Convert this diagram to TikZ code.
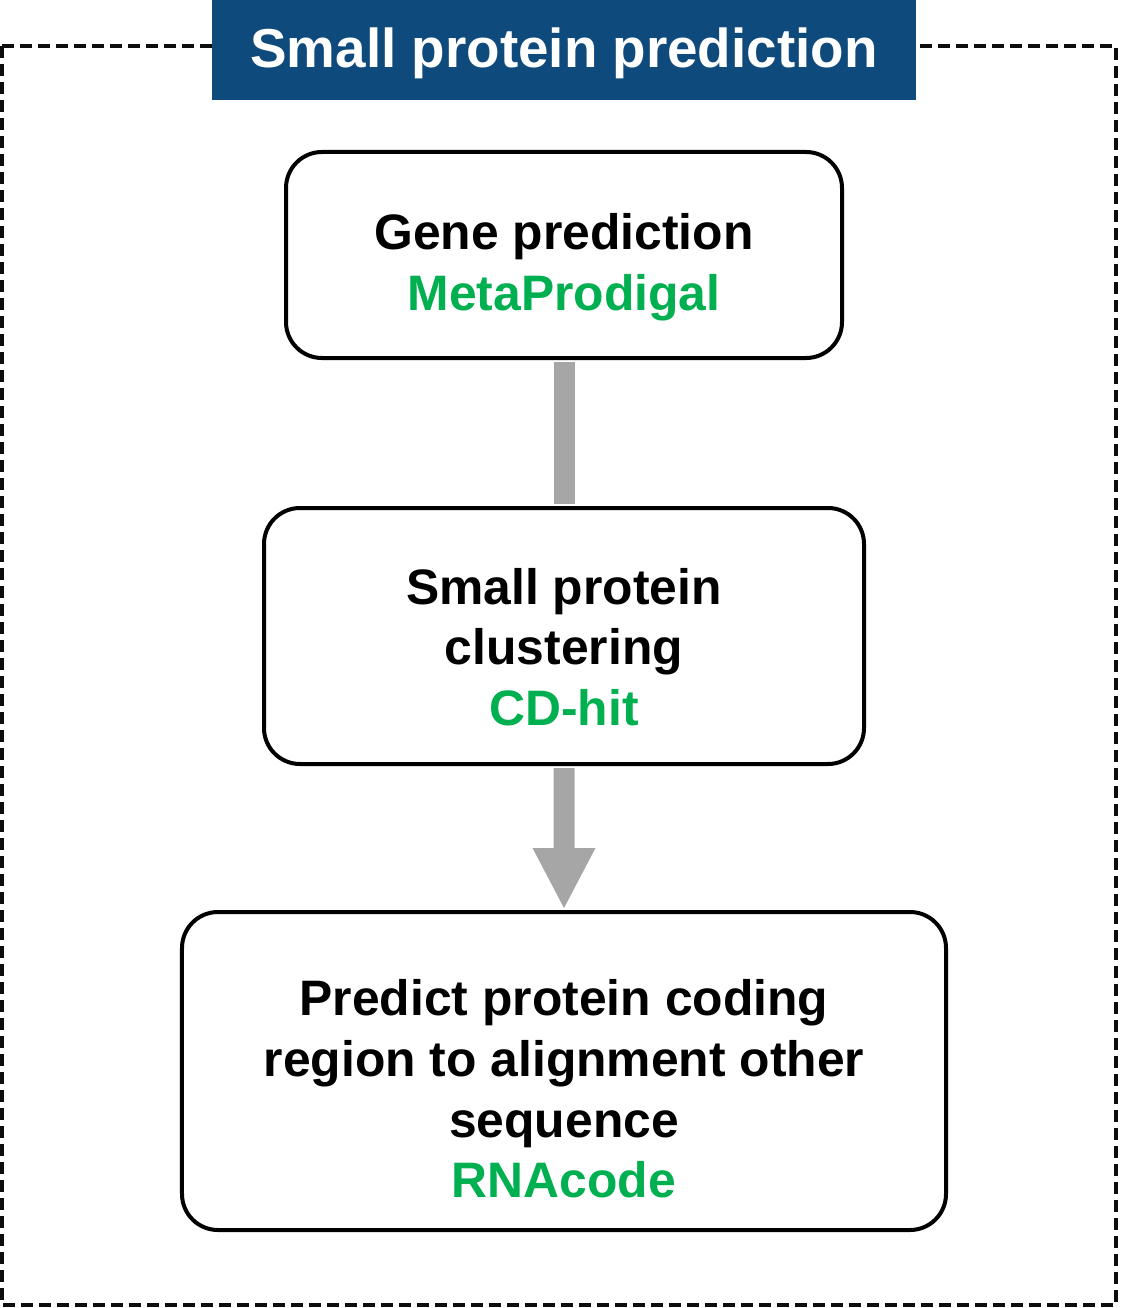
\documentclass[tikz,border=0pt]{standalone}
\usepackage{fontspec}
\setmainfont{Liberation Sans}
\usetikzlibrary{calc}
\definecolor{titleblue}{HTML}{0F4A7C}
\definecolor{toolgreen}{HTML}{00B050}
\definecolor{arrowgray}{HTML}{A6A6A6}
\begin{document}
\begin{tikzpicture}[x=1bp,y=-1bp,
  stepbox/.style={draw=black,line width=4bp,rounded corners=36bp,fill=white,inner sep=0pt},
  steptext/.style={align=center,font=\fontsize{50}{61}\selectfont\bfseries,inner sep=0pt}]
\useasboundingbox (0,0) rectangle (1120,1308);
\draw[line width=4.5bp,dash pattern=on 12bp off 6bp,black!95] (2,46) rectangle (1116,1305);
\node[fill=titleblue,minimum width=704bp,minimum height=100bp,inner sep=0pt] (title) at (564,50) {};
\node[text=white,font=\fontsize{55}{66}\selectfont\bfseries,inner sep=0pt] (titletext)
  at ($(title.center)+(0,3)$) {Small protein prediction};
\node[stepbox,minimum width=556bp,minimum height=206bp] (b1) at (564,255) {};
\node[steptext] (t1) at ($(b1.center)+(0,12)$)
  {Gene prediction\\\textcolor{toolgreen}{MetaProdigal}};
\node[stepbox,minimum width=600bp,minimum height=256bp] (b2) at (564,636) {};
\node[steptext] (t2) at ($(b2.center)+(0,11)$)
  {Small protein\\clustering\\\textcolor{toolgreen}{CD-hit}};
\node[stepbox,minimum width=764bp,minimum height=318bp] (b3) at (564,1071) {};
\node[steptext] (t3) at ($(b3.center)+(0,18)$)
  {Predict protein coding\\region to alignment other\\sequence\\\textcolor{toolgreen}{RNAcode}};
\fill[arrowgray] ($(b1.south)+(-10.5,2)$) rectangle ($(b2.north)+(10.5,-2)$);
\fill[arrowgray] ($(b2.south)+(-10.5,2)$) -- ($(b3.north)+(-10.5,-62)$) -- ($(b3.north)+(-31.5,-62)$)
  -- ($(b3.north)+(0,-2)$) -- ($(b3.north)+(31.5,-62)$) -- ($(b3.north)+(10.5,-62)$)
  -- ($(b2.south)+(10.5,2)$) -- cycle;
\end{tikzpicture}
\end{document}
